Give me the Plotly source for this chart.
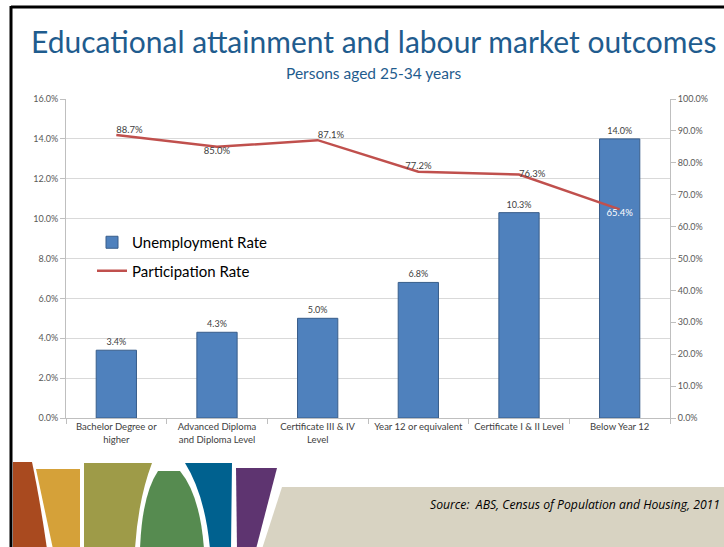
import plotly.graph_objects as go

categories = ["Bachelor Degree or<br>higher", "Advanced Diploma<br>and Diploma Level",
              "Certificate III & IV<br>Level", "Year 12 or equivalent",
              "Certificate I & II Level", "Below Year 12"]
unemployment = [3.4, 4.3, 5.0, 6.8, 10.3, 14.0]
participation = [88.7, 85.0, 87.1, 77.2, 76.3, 65.4]
part_label_pos = ["top right", "bottom center", "top right", "top center", "middle right", "bottom center"]
part_label_col = ["#404040", "#404040", "#404040", "#404040", "#404040", "#FFFFFF"]

W, H = 724, 547
PL, PR, PT, PB = 66, 670, 99, 418          # plot area in window pixels
ML, MR, MT, MB = PL, W - PR, PT, H - PB
PW, PH = PR - PL, PB - PT

def px(x):
    return (x - PL) / PW

def py(y):
    return (PB - y) / PH

def path(cmds):
    out = []
    for c in cmds:
        if c[0] == "Z":
            out.append("Z")
        elif c[0] == "Q":
            (a, b), (c2, d) = c[1], c[2]
            out.append(f"Q {px(a):.5f},{py(b):.5f} {px(c2):.5f},{py(d):.5f}")
        else:
            for (a, b) in c[1:]:
                out.append(f"{c[0]} {px(a):.5f},{py(b):.5f}")
    return " ".join(out)

fig = go.Figure()
fig.add_trace(go.Bar(
    x=categories, y=unemployment, name="Unemployment Rate", legendgroup="u",
    marker=dict(color="#4F81BD", line=dict(color="#385D8A", width=1)),
    width=0.4,
    text=[f"{v:.1f}%" for v in unemployment], textposition="outside",
    textfont=dict(size=9, color="#404040", family="Lato"), cliponaxis=False,
))
fig.add_trace(go.Scatter(
    x=categories, y=participation, name="Participation Rate", yaxis="y2", legendgroup="p",
    mode="lines+text", line=dict(color="#C0504D", width=2.5),
    text=[f"{v:.1f}%" for v in participation], textposition=part_label_pos,
    textfont=dict(size=9.5, color=part_label_col, family="Lato"), cliponaxis=False,
))

shapes = []
bg_shapes = [
    ("#D8D3C2", [("M", (282, 487)), ("L", (726, 487), (726, 549), (262, 549)), ("Z",)]),
    ("#A94A1F", [("M", (13, 462)), ("L", (32, 462)), ("Q", (40, 500), (47, 549)), ("L", (13, 549)), ("Z",)]),
    ("#D5A139", [("M", (36, 469)), ("L", (80, 469), (80, 549), (53, 549)), ("Z",)]),
    ("#9E9B48", [("M", (84, 463)), ("L", (152, 463)), ("Q", (138, 500), (135, 549)), ("L", (84, 549)), ("Z",)]),
    ("#568B50", [("M", (158, 471)), ("L", (180, 471)), ("Q", (200, 495), (204, 549)), ("L", (140, 549)), ("Q", (142, 495), (158, 471)), ("Z",)]),
    ("#00618F", [("M", (185, 463)), ("L", (232, 463), (231, 549), (210, 549)), ("Q", (205, 495), (185, 463)), ("Z",)]),
    ("#5E3470", [("M", (236, 468)), ("L", (277, 468), (256, 549), (237, 549)), ("Z",)]),
]
for col, cmds in bg_shapes:
    shapes.append(dict(type="path", xref="paper", yref="paper", path=path(cmds),
                       fillcolor=col, line=dict(width=0), layer="above"))
# slide border
shapes.append(dict(type="line", xref="paper", yref="paper", x0=px(11), x1=px(730), y0=py(7), y1=py(7),
                   line=dict(color="black", width=3)))
shapes.append(dict(type="line", xref="paper", yref="paper", x0=px(11), x1=px(11), y0=py(6), y1=py(550),
                   line=dict(color="black", width=3)))

annotations = [
    dict(text="Educational attainment and labour market outcomes", xref="paper", yref="paper",
         x=px(373), y=py(41), xanchor="center", yanchor="middle", showarrow=False,
         font=dict(size=30, color="#1F5C8E", family="Lato")),
    dict(text="Persons aged 25-34 years", xref="paper", yref="paper",
         x=px(374), y=py(73), xanchor="center", yanchor="middle", showarrow=False,
         font=dict(size=15.5, color="#1F5C8E", family="Lato")),
    dict(text="<i>Source:  ABS, Census of Population and Housing, 2011</i>", xref="paper", yref="paper",
         x=px(722), y=py(504), xanchor="right", yanchor="middle", showarrow=False,
         font=dict(size=12.2, color="#000000", family="Open Sans")),
]

fig.update_layout(
    width=W, height=H, margin=dict(l=ML, r=MR, t=MT, b=MB, pad=0),
    paper_bgcolor="white", plot_bgcolor="white",
    font=dict(family="Lato", color="#404040"),
    showlegend=True,
    legend=dict(x=px(92), y=py(226), xanchor="left", yanchor="top",
                font=dict(size=15, color="#000000", family="Lato"),
                bgcolor="rgba(0,0,0,0)", itemwidth=30, tracegroupgap=6),
    bargap=0.6,
    xaxis=dict(type="category", tickson="boundaries", ticks="outside", ticklen=5, tickangle=0,
               tickcolor="#BFBFBF", showline=True, linecolor="#BFBFBF", linewidth=1,
               tickfont=dict(size=9.5, color="#404040", family="Lato"), showgrid=False),
    yaxis=dict(range=[0, 16], dtick=2, tickformat=".1f", ticksuffix="%",
               ticks="outside", ticklen=5, tickcolor="#BFBFBF",
               showline=True, linecolor="#BFBFBF", gridcolor="#D9D9D9", gridwidth=1,
               tickfont=dict(size=9, color="#595959", family="Lato"), zeroline=False),
    yaxis2=dict(range=[0, 100], dtick=10, tickformat=".1f", ticksuffix="%", overlaying="y", side="right",
                ticks="outside", ticklen=5, tickcolor="#BFBFBF",
                showline=True, linecolor="#BFBFBF", showgrid=False,
                tickfont=dict(size=9, color="#595959", family="Lato"), zeroline=False),
    shapes=shapes, annotations=annotations,
)
fig.write_html("out.html", config={"displayModeBar": False},
               post_script="document.body.style.margin='0';document.body.style.overflow='hidden';")
